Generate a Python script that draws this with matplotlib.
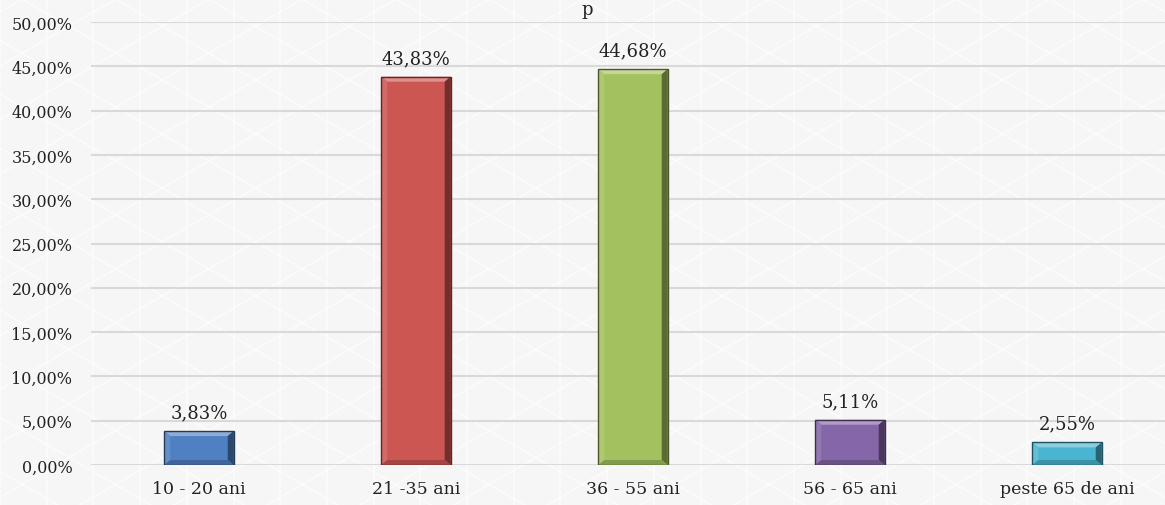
import numpy as np
import matplotlib.pyplot as plt
from matplotlib.patches import Polygon
from matplotlib.colors import to_rgb


# Date
categorii = ['10 - 20 ani', '21 -35 ani', '36 - 55 ani', '56 - 65 ani', 'peste 65 de ani']
procente = [3.83, 43.83, 44.68, 5.11, 2.55]
culori = ['#4F81C2', '#CC5652', '#A3C25F', '#8566A8', '#4AB5D0']
etichete_y = ['0,00%', '5,00%', '10,00%', '15,00%', '20,00%', '25,00%',
              '30,00%', '35,00%', '40,00%', '45,00%', '50,00%']
valori_y = [0, 5, 10, 15, 20, 25, 30, 35, 40, 45, 50]

W, H = 1165, 506
FONT = 'DejaVu Serif'
fig = plt.figure(figsize=(W / 100, H / 100), dpi=100)
fig.patch.set_facecolor('#F6F6F6')

# model de fundal (triunghiuri)
bg = fig.add_axes([0, 0, 1, 1], zorder=-10)
bg.axis('off')
sp = 46.7
for xv in np.arange(-sp, W + sp, sp):
    bg.plot([xv, xv], [0, H], color='white', lw=1.2, alpha=0.6)
k = np.tan(np.radians(30))
pas = sp / np.cos(np.radians(30))
xs = np.array([0, W])
for b in np.arange(-k * W - H, H + k * W, pas):
    bg.plot(xs, k * xs + b, color='white', lw=1.2, alpha=0.6)
    bg.plot(xs, -k * xs + b + k * W, color='white', lw=1.2, alpha=0.6)
bg.set_xlim(0, W)
bg.set_ylim(0, H)

ax = fig.add_axes([90.5 / W, 40 / H, 1085 / W, 443 / H])
ax.set_facecolor('none')
x = np.arange(len(categorii))
w = 0.32
bars = ax.bar(x, procente, width=w, color=culori, zorder=3,
              edgecolor='none')


def mix(c, t, f):
    c = np.array(to_rgb(c))
    return tuple(c + (np.array(t) - c) * f)


# efect de relief
dx = 6 / 217
for xi, h, col in zip(x, procente, culori):
    dy = min(5 / 8.86, h / 2.2)
    x0, x1 = xi - w / 2, xi + w / 2
    sus = [(x0, h), (x1, h), (x1 - dx, h - dy), (x0 + dx, h - dy)]
    st = [(x0, 0), (x0, h), (x0 + dx, h - dy), (x0 + dx, dy)]
    dr = [(x1, 0), (x1, h), (x1 - dx, h - dy), (x1 - dx, dy)]
    jos = [(x0, 0), (x1, 0), (x1 - dx, dy), (x0 + dx, dy)]
    ax.add_patch(Polygon(sus, color=mix(col, (1, 1, 1), 0.35), zorder=4, lw=0))
    ax.add_patch(Polygon(st, color=mix(col, (1, 1, 1), 0.12), zorder=4, lw=0))
    ax.add_patch(Polygon(dr, color=mix(col, (0, 0, 0), 0.45), zorder=4, lw=0))
    ax.add_patch(Polygon(jos, color=mix(col, (0, 0, 0), 0.2), zorder=4, lw=0))
    ax.add_patch(Polygon([(x0, 0), (x0, h), (x1, h), (x1, 0)], fill=False,
                         edgecolor=mix(col, (0, 0, 0), 0.55), lw=1, zorder=5))
    ax.annotate(f'{h:.2f}%'.replace('.', ','), (xi, h), xytext=(0, 7),
                textcoords='offset points', ha='center', va='bottom',
                fontsize=13, family=FONT, color='#222222')

ax.set_xlim(-0.5, 4.5)
ax.set_ylim(0, 50)
ax.set_yticks(valori_y)
ax.set_yticklabels(etichete_y)
ax.set_xticks(x)
ax.set_xticklabels(categorii)
for s in ax.spines.values():
    s.set_visible(False)
ax.tick_params(length=0)
ax.tick_params(axis='y', pad=13, labelsize=11.5, labelcolor='#222222')
ax.tick_params(axis='x', pad=11, labelsize=12.5, labelcolor='#222222')
for t in ax.get_xticklabels() + ax.get_yticklabels():
    t.set_family(FONT)
ax.grid(axis='y', color='#D9D9D9', lw=1.5, zorder=1)
ax.set_axisbelow(True)

# titlu taiat
fig.text(587 / W, 1 - 1 / H, 'p', ha='center', va='top', fontsize=13,
         family=FONT, color='#222222')

fig.savefig('out.png', dpi=100, facecolor=fig.get_facecolor())
